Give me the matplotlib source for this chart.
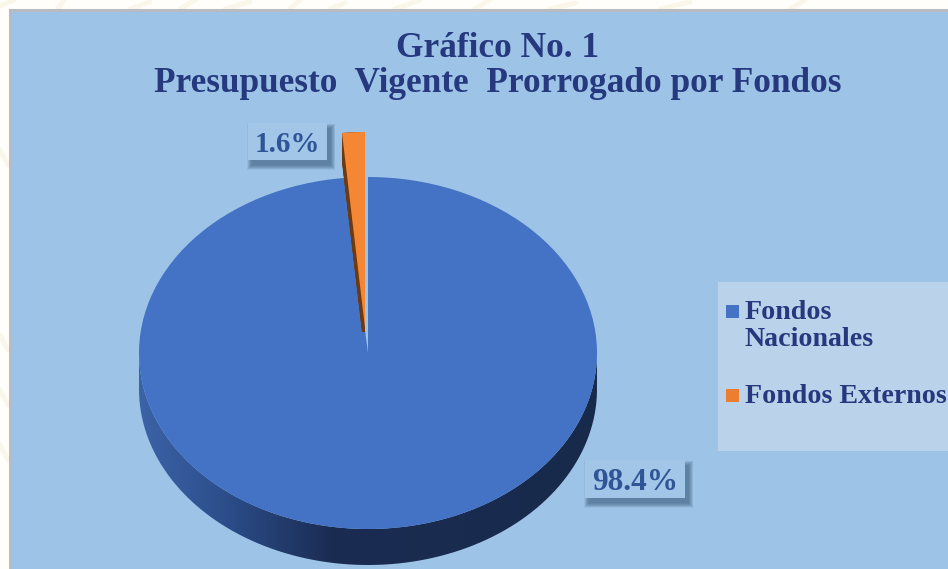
# -*- coding: utf-8 -*-
"""
Gráfico No. 1: pastel "3D" hecho a mano con cuñas elípticas
Coordenadas en píxeles de la imagen (y hacia abajo) via eje invertido
"""

import numpy as np
import matplotlib
matplotlib.use('Agg')
import matplotlib.pyplot as plt
from matplotlib.colors import LinearSegmentedColormap
from matplotlib.patches import PathPatch, Rectangle, Wedge
from matplotlib.path import Path
from matplotlib.transforms import Affine2D

categorias = ['Fondos\nNacionales', 'Fondos Externos']
valores = [98.4, 1.6]
titulo = ['Gráfico No. 1', 'Presupuesto  Vigente  Prorrogado por Fondos']

W, H = 948, 569
FONT = 'Liberation Serif'
C_FONDO = '#9dc3e6'
C_TEXTO = '#26397f'
C_ETIQ = '#2f5597'
C_AZUL = '#4472c4'
C_NARANJA = '#ed7d31'
C_NARANJA_SUP = '#f58634'
C_CAFE = '#6b3a12'

fig = plt.figure(figsize=(W / 100, H / 100), dpi=100, facecolor='#fffefb')
ax = fig.add_axes([0, 0, 1, 1])
ax.set_axis_off()
ax.set_xlim(0, W)
ax.set_ylim(H, 0)


def cuna(cx, cy, rx, ry, t1, t2, color, zorder):
    """Cuña unitaria escalada a una elipse"""
    w = Wedge((0, 0), 1, t1, t2, facecolor=color, edgecolor='none', zorder=zorder)
    w.set_transform(Affine2D().scale(rx, -ry).translate(cx, cy) + ax.transData)
    ax.add_patch(w)
    return w


def caja_sombra(x0, y0, x1, y1, color, z=6):
    """Caja de etiqueta con sombra difusa"""
    for i in range(10):
        d = 9 - i * 1.0
        ax.add_patch(Rectangle((x0 + 4 - d / 2, y0 + 5 - d / 2), x1 - x0 + d, y1 - y0 + d,
                               facecolor='#2f4f70', edgecolor='none', alpha=0.075, zorder=z))
    ax.add_patch(Rectangle((x0, y0), x1 - x0, y1 - y0, facecolor=color,
                           edgecolor='none', zorder=z + 0.1))


# marca de agua tenue en los márgenes
for x0, x1, y0, y1 in [(0, 14, 6, 0), (58, 64, 9, 0), (130, 150, 9, 2), (180, 195, 9, 0),
                       (225, 250, 9, 2), (290, 300, 9, 0), (330, 345, 9, 3), (395, 420, 9, 0),
                       (475, 490, 9, 0), (550, 575, 9, 3), (660, 690, 9, 2), (790, 805, 9, 0),
                       (0, 8, 150, 165), (0, 8, 335, 350), (0, 8, 390, 405), (0, 8, 445, 460)]:
    ax.plot([x0, x1], [y0, y1], color='#faf6ea', lw=3.5, solid_capstyle='round', zorder=0)

# panel
ax.add_patch(Rectangle((9, 9), W, H, facecolor=C_FONDO, edgecolor='none', zorder=1))
ax.plot([10, 10, W], [H, 10, 10], color='#b8bcc2', lw=2.2, zorder=1.1)

# pastel
cx, cy, rx, ry, prof = 368, 353, 229, 176, 36
ang = 360 * valores[1] / sum(valores)

# pared lateral con degradado
t = np.linspace(np.pi, 2 * np.pi, 200)
xs = cx + rx * np.cos(t)
ys = cy - ry * np.sin(t)
verts = np.vstack([np.column_stack([xs, ys]), np.column_stack([xs[::-1], ys[::-1] + prof])])
pared = PathPatch(Path(np.vstack([verts, verts[0]])), facecolor='none', edgecolor='none',
                  transform=ax.transData)
ax.add_patch(pared)
cmap = LinearSegmentedColormap.from_list(
    'pared', [(0, '#3c63a8'), (0.2, '#2b4c88'), (0.42, '#1a2c52'), (1, '#182a4b')])
img = ax.imshow(np.linspace(0, 1, 256)[None, :], extent=(cx - rx, cx + rx, H, 0), cmap=cmap,
                aspect='auto', zorder=2)
img.set_clip_path(pared)

# cuña azul: deja libre el hueco de la cuña naranja
cuna(cx, cy, rx, ry, 90 + ang, 90 + 360, C_AZUL, 3)

# cuña naranja separada, con su pared café (cortada antes de la punta del hueco)
nx, ny, nry = 365, 328, 196
recorte = Rectangle((nx - 40, 120), 80, ny + 4 - 120, transform=ax.transData)
for dz in range(0, 30):
    cuna(nx, ny + dz, rx, nry, 90, 90 + ang, C_CAFE, 3.5).set_clip_path(recorte)
cuna(nx, ny, rx, nry, 90, 90 + ang, C_NARANJA_SUP, 4)

# etiquetas de datos
caja_sombra(248, 123, 327, 160, '#a2c6e8')
caja_sombra(585, 460, 685, 498, '#a2c6e8')
ax.text(287, 152, f'{valores[1]:.1f}%', color=C_ETIQ, fontsize=21, fontweight='bold',
        family=FONT, ha='center', va='baseline', zorder=7)
ax.text(635, 490, f'{valores[0]:.1f}%', color=C_ETIQ, fontsize=22.5, fontweight='bold',
        family=FONT, ha='center', va='baseline', zorder=7)

# leyenda
ax.add_patch(Rectangle((718, 282), W - 718, 169, facecolor='#bad2ea', edgecolor='none', zorder=5))
ax.add_patch(Rectangle((726, 305), 13, 13, facecolor=C_AZUL, edgecolor='none', zorder=6))
ax.add_patch(Rectangle((726, 389), 13, 13, facecolor=C_NARANJA, edgecolor='none', zorder=6))
for (y0, lab) in zip([319, 403], categorias):
    for j, linea in enumerate(lab.split('\n')):
        ax.text(745, y0 + j * 27, linea, color=C_TEXTO, fontsize=20.2, fontweight='bold',
                family=FONT, ha='left', va='baseline', zorder=7)

# título
ax.text(497.5, 57, titulo[0], color=C_TEXTO, fontsize=25.4, fontweight='bold', family=FONT,
        ha='center', va='baseline', zorder=7)
ax.text(497.5, 92, titulo[1], color=C_TEXTO, fontsize=25.4, fontweight='bold', family=FONT,
        ha='center', va='baseline', zorder=7)

ax.set_xlim(0, W)
ax.set_ylim(H, 0)

fig.savefig('out.png', dpi=100, facecolor=fig.get_facecolor())
plt.close(fig)
